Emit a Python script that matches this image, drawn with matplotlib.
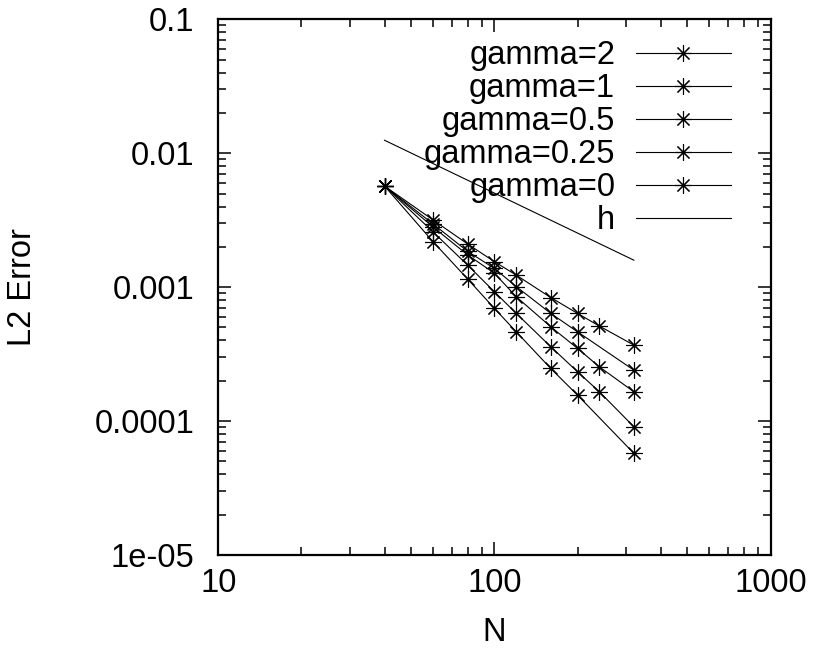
import matplotlib
matplotlib.use("Agg")
import matplotlib.pyplot as plt
from matplotlib.ticker import LogLocator, NullFormatter, FixedLocator, FixedFormatter

plt.rcParams['font.family'] = ['Liberation Sans', 'DejaVu Sans']

# Data
N_g2 = [40, 60, 80, 100, 120, 160, 200, 240, 320]
E_g2 = [0.00569, 0.00317, 0.00210, 0.00155, 0.00123, 0.000836, 0.000637, 0.000512, 0.000369]

N_g1 = [40, 60, 80, 100, 120, 160, 200, 320]
E_g1 = [0.00569, 0.00296, 0.00185, 0.00138, 0.00101, 0.000637, 0.000464, 0.000240]

N_g05 = [40, 60, 80, 100, 120, 160, 200, 240, 320]
E_g05 = [0.00569, 0.00281, 0.00174, 0.00127, 0.000848, 0.000506, 0.000349, 0.000254, 0.0001655]

N_g025 = [40, 60, 80, 100, 120, 160, 200, 240, 320]
E_g025 = [0.00569, 0.00258, 0.00146, 0.000924, 0.000637, 0.000359, 0.0002335, 0.0001655, 0.0000907]

N_g0 = [40, 60, 80, 100, 120, 160, 200, 320]
E_g0 = [0.00569, 0.00218, 0.00115, 0.000694, 0.000464, 0.000247, 0.0001563, 0.0000574]

N_h = [40, 320]
E_h = [0.0125, 0.00159]

series = [
    ("gamma=2", N_g2, E_g2),
    ("gamma=1", N_g1, E_g1),
    ("gamma=0.5", N_g05, E_g05),
    ("gamma=0.25", N_g025, E_g025),
    ("gamma=0", N_g0, E_g0),
]

xticks = [10, 100, 1000]
xticklabels = ["10", "100", "1000"]
yticks = [1e-5, 1e-4, 1e-3, 1e-2, 1e-1]
yticklabels = ["1e-05", "0.0001", "0.001", "0.01", "0.1"]

FS = 23.5

fig = plt.figure(figsize=(8.13, 6.5), dpi=100)
ax = fig.add_axes([218.3 / 813, 1 - 555 / 650, (770.5 - 218.3) / 813, (555 - 19.3) / 650])

star = (8, 2, 0)
for label, n, e in series:
    ax.plot(n, e, color='black', linewidth=0.8, marker=star, markersize=12,
            markeredgewidth=0.8, label=label)
ax.plot(N_h, E_h, color='black', linewidth=0.8, label='h')

ax.set_xscale('log')
ax.set_yscale('log')
ax.set_xlim(10, 1000)
ax.set_ylim(1e-5, 0.1)

ax.xaxis.set_major_locator(FixedLocator(xticks))
ax.xaxis.set_major_formatter(FixedFormatter(xticklabels))
ax.yaxis.set_major_locator(FixedLocator(yticks))
ax.yaxis.set_major_formatter(FixedFormatter(yticklabels))
ax.xaxis.set_minor_locator(LogLocator(base=10, subs=range(2, 10)))
ax.yaxis.set_minor_locator(LogLocator(base=10, subs=range(2, 10)))
ax.xaxis.set_minor_formatter(NullFormatter())
ax.yaxis.set_minor_formatter(NullFormatter())

ax.tick_params(which='both', direction='in', top=True, right=True, width=1.1, color='black')
ax.tick_params(which='major', length=9.4)
ax.tick_params(which='minor', length=5.8)
ax.tick_params(axis='x', which='major', labelsize=FS, pad=9)
ax.tick_params(axis='y', which='major', labelsize=FS, pad=17)

for s in ax.spines.values():
    s.set_linewidth(1.6)

ax.set_xlabel('N', fontsize=FS)
ax.set_ylabel('L2 Error', fontsize=FS)
ax.xaxis.set_label_coords(0.5, -0.115)
ax.yaxis.set_label_coords(-0.327, 0.5)

leg = ax.legend(loc='upper right', bbox_to_anchor=(0.928, 0.961), frameon=False,
                markerfirst=False, fontsize=FS, handlelength=2.9, handletextpad=0.64,
                labelspacing=0.06, borderpad=0, borderaxespad=0)
for col in leg._legend_handle_box.get_children():
    col.align = 'right'

fig.savefig('out.png', dpi=100)
